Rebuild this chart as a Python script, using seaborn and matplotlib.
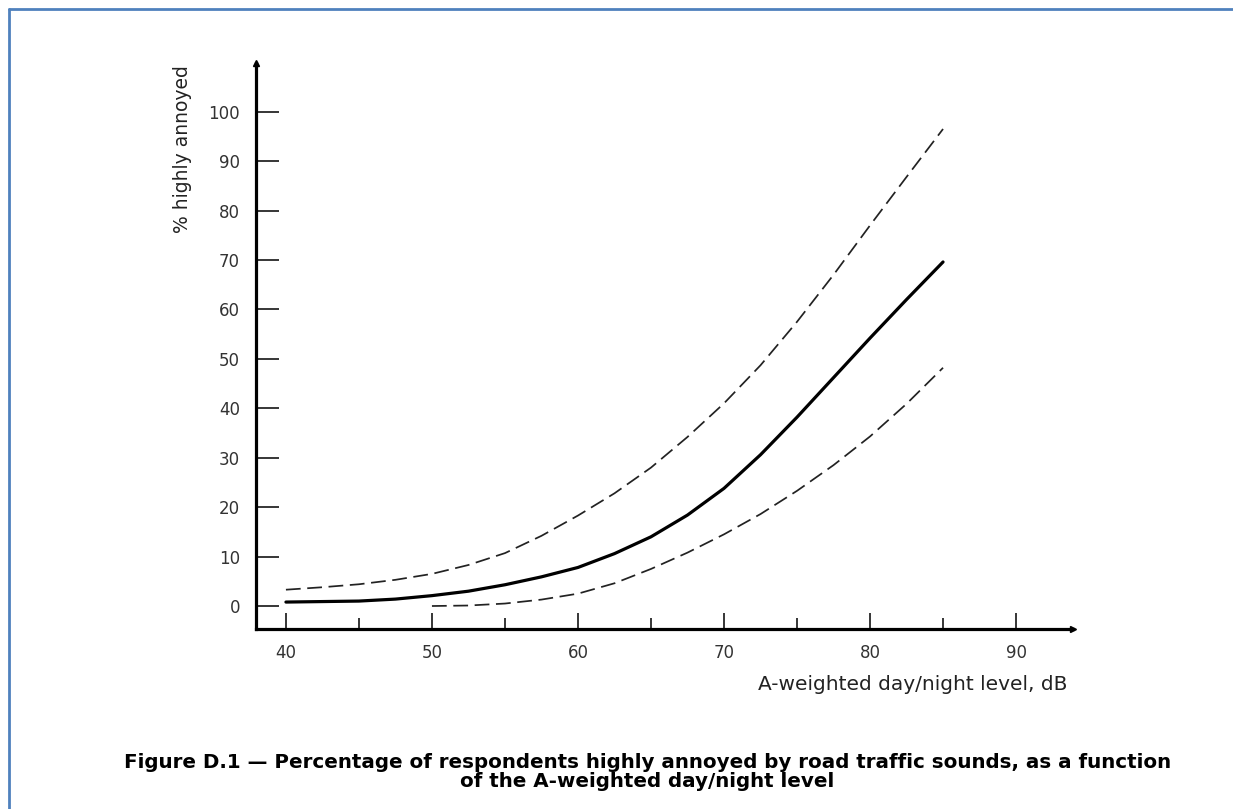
import numpy as np
import pandas as pd
import matplotlib
matplotlib.use("Agg")
import matplotlib.pyplot as plt
import seaborn as sns
from matplotlib.lines import Line2D

# ---- data ----
level_mid = [40, 42.5, 45, 47.5, 50, 52.5, 55, 57.5, 60, 62.5, 65, 67.5, 70,
             72.5, 75, 77.5, 80, 82.5, 85]
pct_mid = [0.8, 0.9, 1.0, 1.4, 2.1, 3.0, 4.3, 5.9, 7.8, 10.6, 14.0, 18.4, 23.8,
           30.6, 38.2, 46.2, 54.2, 62.0, 69.6]

level_upper = [40, 42.5, 45, 47.5, 50, 52.5, 55, 57.5, 60, 62.5, 65, 67.5, 70,
               72.5, 75, 77.5, 80, 82.5, 85]
pct_upper = [3.3, 3.8, 4.4, 5.3, 6.5, 8.3, 10.7, 14.2, 18.3, 22.8, 28.0, 34.2,
             41.0, 48.7, 57.5, 67.0, 77.0, 86.8, 96.5]

level_lower = [50, 52.5, 55, 57.5, 60, 62.5, 65, 67.5, 70, 72.5, 75, 77.5, 80,
               82.5, 85]
pct_lower = [0.0, 0.1, 0.5, 1.3, 2.5, 4.6, 7.5, 10.8, 14.5, 18.6, 23.3, 28.5,
             34.3, 40.9, 48.2]

x_major = [40, 50, 60, 70, 80, 90]
x_minor = [45, 55, 65, 75, 85]
y_ticks = [0, 10, 20, 30, 40, 50, 60, 70, 80, 90, 100]

y_label = "% highly annoyed"
x_label = "A-weighted day/night level, dB"
caption = ("Figure D.1 \u2014 Percentage of respondents highly annoyed by road traffic sounds, as a function\n"
           "of the A-weighted day/night level")

# ---- plotting ----
sns.set_style("ticks")
plt.rcParams["font.family"] = ["DejaVu Sans"]

W, H = 1233, 809
fig = plt.figure(figsize=(W / 100, H / 100), dpi=100)
ax = fig.add_axes([256 / W, 1 - 629 / H, (1073 - 256) / W, (629 - 63) / H])

df_mid = pd.DataFrame({"level": level_mid, "pct": pct_mid})
df_up = pd.DataFrame({"level": level_upper, "pct": pct_upper})
df_lo = pd.DataFrame({"level": level_lower, "pct": pct_lower})

sns.lineplot(data=df_mid, x="level", y="pct", ax=ax, color="black", lw=2.3)
sns.lineplot(data=df_up, x="level", y="pct", ax=ax, color="#222222", lw=1.25)
sns.lineplot(data=df_lo, x="level", y="pct", ax=ax, color="#222222", lw=1.25)
for ln in ax.lines[1:3]:
    ln.set_dashes((8.5, 3.8))

ax.set_xlim(37.95, 93.9)
ax.set_ylim(-4.65, 109.85)

sns.despine(ax=ax)
for s in ("left", "bottom"):
    ax.spines[s].set_linewidth(2.3)
    ax.spines[s].set_color("black")

ax.set_xticks(x_major)
ax.set_xticks(x_minor, minor=True)
ax.set_yticks(y_ticks)
ax.set_xticklabels([str(v) for v in x_major])
ax.set_yticklabels([str(v) for v in y_ticks])
ax.tick_params(axis="x", which="major", direction="in", length=11.5, width=1.1,
               pad=11, labelsize=12, labelcolor="#333333", color="black")
ax.tick_params(axis="x", which="minor", direction="in", length=8, width=1.1,
               color="black")
ax.tick_params(axis="y", which="major", direction="in", length=16.5, width=1.1,
               pad=11.5, labelsize=12, labelcolor="#333333", color="black")
ax.set_xlabel("")
ax.set_ylabel("")

# axis arrow heads
ax.plot(1, 0, marker=">", ms=5, color="black", transform=ax.transAxes,
        clip_on=False)
ax.plot(0, 1, marker="^", ms=5, color="black", transform=ax.transAxes,
        clip_on=False)

# axis titles
fig.text(182 / W, 1 - 65 / H, y_label, rotation=90, ha="center", va="top",
         fontsize=13.5, family=["DejaVu Sans"], color="#222222")
fig.text(1067 / W, 1 - 685 / H, x_label, ha="right", va="center",
         fontsize=14.5, family=["DejaVu Sans"], color="#222222")

# caption
fig.text(0.5 * (120 + 1175) / W, 1 - 772 / H, caption, ha="center", va="center",
         fontsize=14.3, fontweight="bold", linespacing=1.0,
         family=["DejaVu Sans"], color="black")

# blue frame (top and left edges)
fig.add_artist(Line2D([9 / W, 1.0], [1 - 9 / H, 1 - 9 / H], transform=fig.transFigure,
                      color="#4F81BD", lw=2))
fig.add_artist(Line2D([9 / W, 9 / W], [1 - 9 / H, 0.0], transform=fig.transFigure,
                      color="#4F81BD", lw=2))

fig.savefig("out.png", dpi=100)
